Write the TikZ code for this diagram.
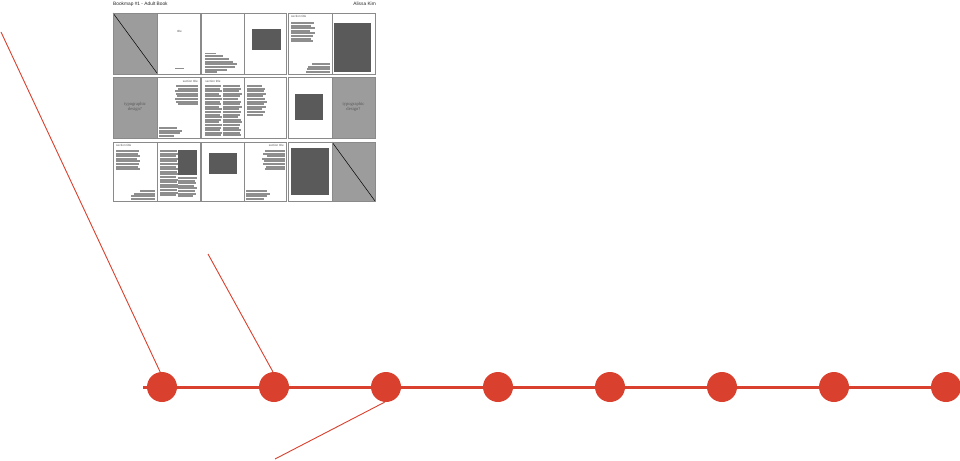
\documentclass[tikz,border=0pt]{standalone}
\usepackage{fontspec}
\setmainfont{Liberation Sans}
\newfontfamily\serifx{Liberation Serif}
\definecolor{tlred}{HTML}{D9402D}
\definecolor{pgray}{HTML}{9C9C9C}
\definecolor{dgray}{HTML}{5A5A5A}
\definecolor{bgray}{HTML}{8E8E8E}
\definecolor{fgray}{HTML}{8A8A8A}
\definecolor{tgray}{HTML}{555555}
\newcommand\barsL[3]{\foreach \w [count=\i from 0] in {#3} {\fill[bar] (#1,#2+\i*2.6) rectangle ++(\w,2.0);}}
\newcommand\barsR[3]{\foreach \w [count=\i from 0] in {#3} {\fill[bar] (#1-\w,#2+\i*2.6) rectangle ++(\w,2.0);}}
\tikzset{
  bar/.style={fill=bgray},
  frame/.style={draw=fgray,line width=0.8pt},
  pagefill/.style={fill=pgray},
  dark/.style={fill=dgray},
  tinytext/.style={inner sep=0pt,font=\fontsize{3}{3.5}\selectfont,text=tgray},
  headtext/.style={inner sep=0pt,font=\fontsize{4.8}{5}\selectfont,text=black!85},
  typotext/.style={inner sep=0pt,align=center,font=\serifx\fontsize{4.6}{5.4}\selectfont,text=black!65},
  dot/.style={circle,fill=tlred,draw=none,minimum size=30pt,inner sep=0pt},
  tline/.style={draw=tlred,line width=3pt},
  pointer/.style={draw=tlred,line width=0.9pt}
}
\begin{document}
\begin{tikzpicture}[x=1pt,y=-1pt]
\useasboundingbox (0,0) rectangle (960,460);
\fill[white] (0,0) rectangle (960,460);

% header
\node[headtext,anchor=north west] (h1) at (113,2) {Bookmap \#1 - Adult Book};
\node[headtext,anchor=north east] (h2) at (376,2) {Alissa Kim};

% ---------- row 1 ----------
% spread 1
\fill[pagefill] (113,13) rectangle (157.7,74);
\draw[black,line width=0.5pt] (113,13) -- (157.7,74);
\node[tinytext] (r1a) at (179.5,31) {title};
\fill[bar] (175,67.5) rectangle (184,69.2);
% spread 2
\fill[bar] (205,53.5) rectangle (216,54.5);
\barsL{205}{55.5}{18,24,28,32,30,22,12}
\fill[dark] (252,29) rectangle (281,50);
% spread 3
\node[tinytext,anchor=west] (r1c) at (291,16) {section title};
\barsL{291}{22}{23,20,24,19,24,22,20,22}
\barsR{330}{63}{18,22,23,24}
\fill[dark] (334,23) rectangle (371,72);

% ---------- row 2 ----------
% spread 1
\fill[pagefill] (113,77) rectangle (157.7,138);
\node[typotext] (typo1) at (135,107) {typographic\\design?};
\node[tinytext,anchor=east] (r2a) at (198,81) {section title};
\barsR{198}{85}{22,20,23,22,21,23,22,20}
\barsL{158.5}{127}{18,23,21,15}
% spread 2
\node[tinytext] (r2b) at (213,81) {section title};
\barsL{205}{85}{16,15,17,14,16,17,15,16,14,17,16,15,17,16,14,17,16,15,17,16}
\barsL{223}{85}{17,18,16,19,17,15,18,17,19,16,18,17,15,18,19,17,16,18,17,18}
\barsL{247}{85}{15,18,17,19,16,18,20,17,19,15,18,16}
% spread 3
\fill[dark] (295,94) rectangle (323,120);
\fill[pagefill] (332,77) rectangle (375,138);
\node[typotext] (typo2) at (353.5,107) {typographic\\design?};

% ---------- row 3 ----------
% spread 1
\node[tinytext,anchor=west] (r3a) at (116,145.5) {section title};
\barsL{116}{150}{23,22,24,21,24,23,22,24}
\barsR{155}{190}{15,21,24,24}
\barsL{160}{150}{17,18,16,19,17,18,16,18,17,19,16,18,17,18,19,17,18,16}
\fill[dark] (178,150) rectangle (197,175);
\barsL{178}{177}{19,17,18,16,19,17,18,15}
% spread 2
\fill[dark] (209,153) rectangle (237,174);
\node[tinytext,anchor=east] (r3b) at (284,145.5) {section title};
\barsR{285}{150}{20,22,18,23,21,22,19,20}
\barsL{246}{190}{21,24,21,18}
% spread 3
\fill[dark] (291,148) rectangle (329,195);
\fill[pagefill] (332,142) rectangle (375,201);
\draw[black,line width=0.5pt] (332,142) -- (375,201);

% frames
\foreach \xa/\xb/\xs in {113/200/157.7,201/286/244,288/375/332}{
  \foreach \ya/\yb in {13/74,77/138,142/201}{
    \draw[frame] (\xa,\ya) rectangle (\xb,\yb);
    \draw[frame] (\xs,\ya) -- (\xs,\yb);
  }
}

% ---------- timeline ----------
\coordinate (ls) at (143,387);
\coordinate (le) at (960,387);
\draw[tline] (ls) -- (le);
\foreach \k/\xx in {1/162,2/274,3/386,4/498,5/610,6/722,7/834,8/946}{
  \node[dot] (c\k) at (\xx,387) {};
}
\coordinate (p1) at (1,32);
\coordinate (p2) at (208,254);
\coordinate (p3) at (275,459);
\draw[pointer] (p1) -- (c1.97);
\draw[pointer] (p2) -- (c2.94);
\draw[pointer] (p3) -- (c3.265);
\end{tikzpicture}
\end{document}
